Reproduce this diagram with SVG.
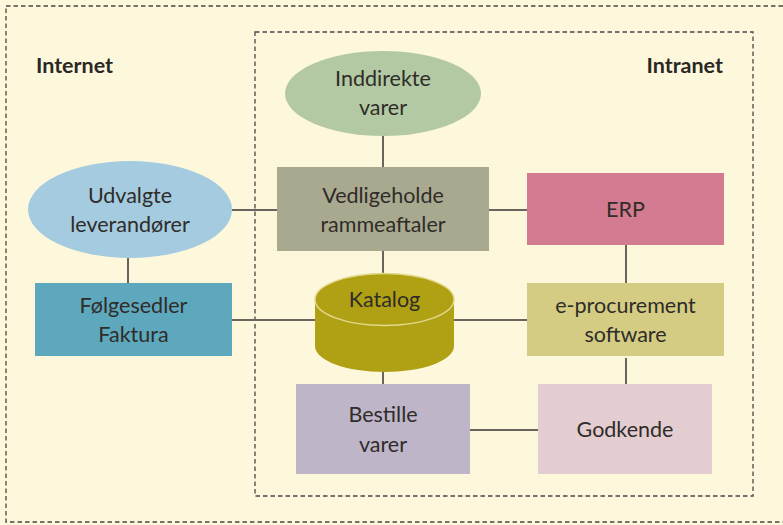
<svg xmlns="http://www.w3.org/2000/svg" width="783" height="525" viewBox="0 0 783 525">
<style>
.t{font-family:Lato,"Open Sans","Liberation Sans",sans-serif;font-size:21.5px;fill:#2f2c29;text-anchor:middle}
.b{font-family:Lato,"Open Sans","Liberation Sans",sans-serif;font-size:21.5px;font-weight:bold;fill:#2a2724}
.dash{fill:none;stroke:#4a4744;stroke-width:1.3;stroke-dasharray:4.5 3}
.c{stroke:#6a645e;stroke-width:2;fill:none}
</style>
<rect x="0" y="0" width="783" height="525" fill="#fdf7db"/>
<rect class="dash" x="6" y="6" width="785" height="516"/>
<rect class="dash" x="255" y="32" width="498" height="464"/>
<text class="b" x="36" y="73">Internet</text>
<text class="b" x="723" y="73" text-anchor="end" style="text-anchor:end">Intranet</text>
<g id="connectors">
<line class="c" x1="383" y1="136" x2="383" y2="167"/>
<line class="c" x1="232" y1="210" x2="277" y2="210"/>
<line class="c" x1="489" y1="210" x2="527" y2="210"/>
<line class="c" x1="626" y1="245" x2="626" y2="283"/>
<line class="c" x1="128" y1="258" x2="128" y2="283"/>
<line class="c" x1="383" y1="251" x2="383" y2="274"/>
<line class="c" x1="232" y1="320" x2="316" y2="320"/>
<line class="c" x1="453" y1="320" x2="527" y2="320"/>
<line class="c" x1="383" y1="372" x2="383" y2="384"/>
<line class="c" x1="626" y1="358" x2="626" y2="384"/>
<line class="c" x1="470" y1="430" x2="538" y2="430"/>
</g>
<g id="inddirekte">
<ellipse cx="383" cy="93.5" rx="98" ry="42.5" fill="#b3c9a3"/>
<text class="t" x="383" y="86">Inddirekte</text>
<text class="t" x="383" y="115">varer</text>
</g>
<g id="udvalgte">
<ellipse cx="130" cy="209.5" rx="102" ry="48.5" fill="#a4cbe0"/>
<text class="t" x="130" y="203">Udvalgte</text>
<text class="t" x="130" y="232">leverandører</text>
</g>
<g id="vedligeholde">
<rect x="277" y="167" width="212" height="84" fill="#a9a98f"/>
<text class="t" x="383" y="203">Vedligeholde</text>
<text class="t" x="383" y="232">rammeaftaler</text>
</g>
<g id="erp">
<rect x="527" y="173" width="197" height="72" fill="#d37b90"/>
<text class="t" x="625.5" y="217">ERP</text>
</g>
<g id="folgesedler">
<rect x="35" y="283" width="197" height="73" fill="#5ea8bd"/>
<text class="t" x="133.5" y="313">Følgesedler</text>
<text class="t" x="133.5" y="342">Faktura</text>
</g>
<g id="katalog">
<path d="M315,299.5 L315,346 A69.5,26 0 0 0 454,346 L454,299.5 Z" fill="#b0a014"/>
<ellipse cx="384.5" cy="299.5" rx="69.5" ry="26" fill="#b0a014" stroke="#e2d98c" stroke-width="1.5"/>
<text class="t" x="384.5" y="307">Katalog</text>
</g>
<g id="eprocurement">
<rect x="527" y="283" width="197" height="73" fill="#d4cc83"/>
<text class="t" x="625.5" y="313">e-procurement</text>
<text class="t" x="625.5" y="342">software</text>
</g>
<g id="bestille">
<rect x="296" y="384" width="174" height="90" fill="#beb5c8"/>
<text class="t" x="383" y="422">Bestille</text>
<text class="t" x="383" y="452">varer</text>
</g>
<g id="godkende">
<rect x="538" y="384" width="174" height="90" fill="#e4cdd0"/>
<text class="t" x="625" y="437">Godkende</text>
</g>
</svg>
